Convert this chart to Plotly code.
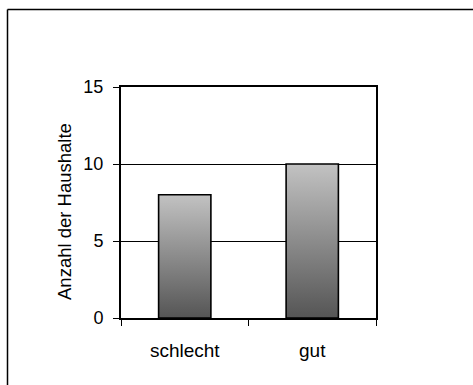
import plotly.graph_objects as go

categories = ["schlecht", "gut"]
values = [8, 10]
y_title = "Anzahl der Haushalte"
y_ticks = [0, 5, 10, 15]

bar_width = 0.41
W, H = 473, 385
L, R, T, B = 121, 376, 87, 318

fig = go.Figure()
for i, (cat, v) in enumerate(zip(categories, values)):
    x0, x1 = i - bar_width / 2, i + bar_width / 2
    fig.add_trace(go.Scatter(
        x=[x0, x0, x1, x1, x0], y=[0, v, v, 0, 0],
        mode="lines", fill="toself",
        fillgradient=dict(type="vertical",
                          colorscale=[[0, "#555555"], [1, "#c2c2c2"]]),
        line=dict(color="black", width=1.6),
        hoverinfo="skip", showlegend=False, name=cat,
    ))

fig.update_layout(
    width=W, height=H,
    margin=dict(l=L, r=W - R, t=T, b=H - B, autoexpand=False),
    paper_bgcolor="white", plot_bgcolor="white",
    font=dict(family="Liberation Sans, Arial, sans-serif", color="black"),
    showlegend=False,
)
fig.update_xaxes(
    range=[-0.5, len(categories) - 0.5],
    tickmode="array", tickvals=list(range(len(categories))), ticktext=categories,
    ticks="", showgrid=False, zeroline=False,
    showline=True, linecolor="black", linewidth=2, mirror=True,
    tickfont=dict(size=19), ticklabelstandoff=14,
    minor=dict(tickmode="array", tickvals=[k - 0.5 for k in range(len(categories) + 1)],
               ticks="outside", ticklen=6, tickcolor="black", tickwidth=1, showgrid=False),
)
fig.update_yaxes(
    range=[0, 15], tickmode="array", tickvals=y_ticks,
    ticks="outside", ticklen=6, tickcolor="black", tickwidth=1,
    showgrid=True, gridcolor="black", gridwidth=1, zeroline=False,
    showline=True, linecolor="black", linewidth=2, mirror=True,
    tickfont=dict(size=18), ticklabelstandoff=6,
)

pw, ph = R - L, B - T
fig.add_annotation(text=y_title, textangle=-90, showarrow=False,
                   xref="paper", yref="paper",
                   x=(64 - L) / pw, y=(B - 212) / ph,
                   xanchor="center", yanchor="middle",
                   font=dict(size=18.5))

fig.add_shape(type="line", xref="paper", yref="paper",
              x0=(7.5 - L) / pw, x1=(W + 5 - L) / pw,
              y0=1 + (T - 9.5) / ph, y1=1 + (T - 9.5) / ph,
              line=dict(color="black", width=1.5))
fig.add_shape(type="line", xref="paper", yref="paper",
              x0=(7.5 - L) / pw, x1=(7.5 - L) / pw,
              y0=1 + (T - 9.5) / ph, y1=(B - H - 5) / ph,
              line=dict(color="black", width=1.5))

fig.write_html("out.html")
